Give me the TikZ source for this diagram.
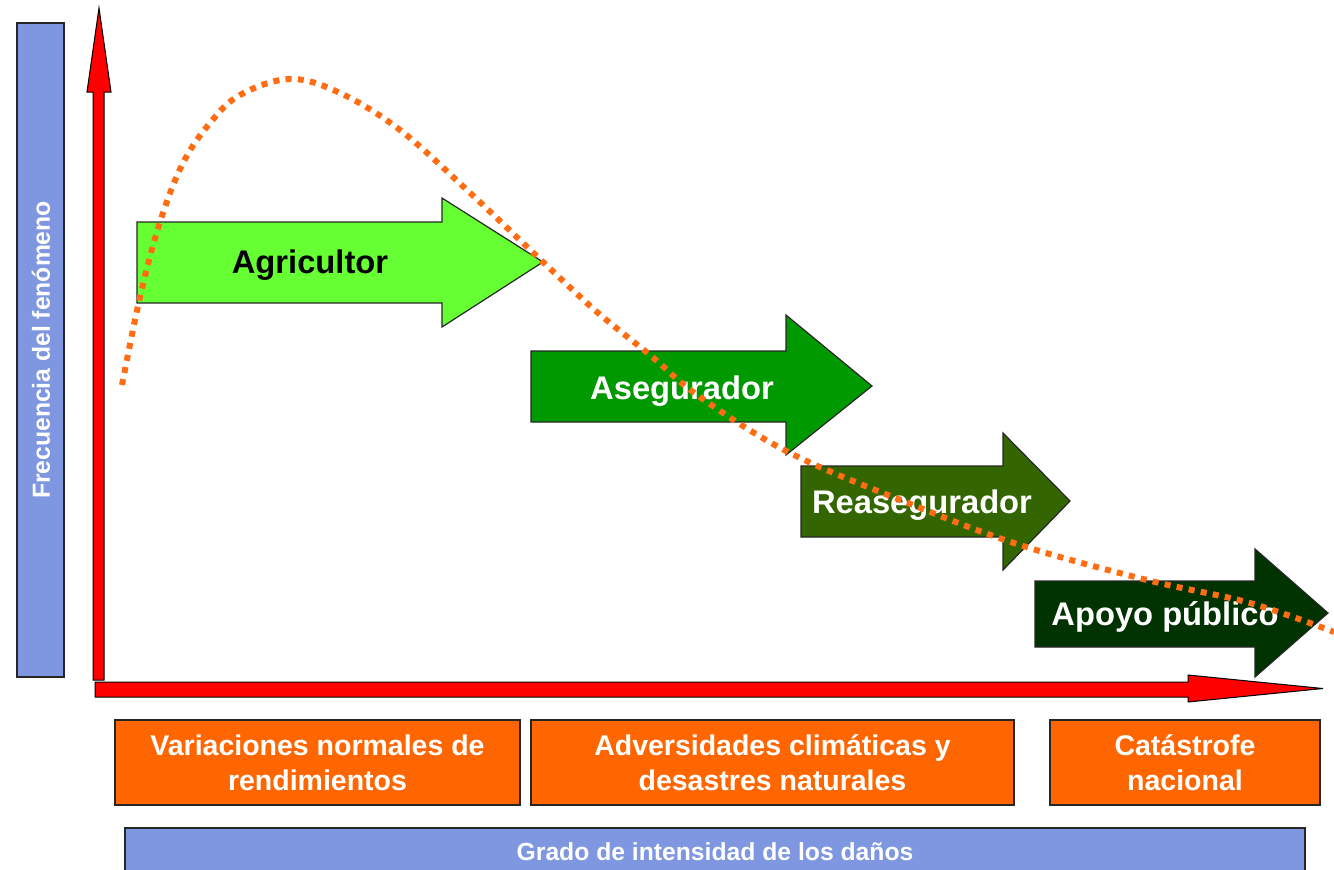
\documentclass[tikz,border=0pt]{standalone}
\usepackage{fontspec}
\setmainfont{Liberation Sans}
\definecolor{barblue}{RGB}{126,151,224}
\definecolor{zoneorange}{RGB}{255,102,0}
\definecolor{curveorange}{RGB}{255,108,18}
\definecolor{agrigreen}{RGB}{102,255,51}
\definecolor{aseggreen}{RGB}{0,153,0}
\definecolor{reaseggreen}{RGB}{51,102,0}
\definecolor{apoyogreen}{RGB}{0,51,0}

\begin{document}
\begin{tikzpicture}[x=1pt,y=-1pt,
    blockarrow/.style={draw=black!85,line width=1.2pt},
    axisarrow/.style={fill=red,draw=black,line width=1pt},
    arrowlabel/.style={font=\bfseries\fontsize{32.7}{39}\selectfont,anchor=base,inner sep=0pt},
    zonebox/.style={fill=zoneorange,draw=black!85,line width=1.3pt,text=white,align=center,
        minimum height=85pt,inner sep=0pt,font=\bfseries\fontsize{28.5}{35}\selectfont},
    barlabel/.style={text=white,font=\bfseries\fontsize{24.7}{30}\selectfont,inner sep=0pt}]
    \useasboundingbox (0,0) rectangle (1334,870);

    % axes
    \filldraw[axisarrow] (93,680) -- (93,92) -- (87,92) -- (99,8) -- (111,92) -- (104,92) -- (104,680) -- cycle;
    \filldraw[axisarrow] (95,682) -- (1188,682) -- (1188,675) -- (1323,688.5) -- (1188,702) -- (1188,697) -- (95,697) -- cycle;

    % blue bars
    \filldraw[fill=barblue,draw=black!85,line width=1.3pt] (17,23) rectangle (64,677);
    \node[barlabel,rotate=90] (frecuencia) at (41,350) {Frecuencia del fenómeno};
    \filldraw[fill=barblue,draw=black!85,line width=1.3pt] (125,828) rectangle (1305,885);
    \node[barlabel,anchor=base] (grado) at (715,860) {Grado de intensidad de los daños};

    % who carries the risk
    \filldraw[blockarrow,fill=agrigreen] (137,222) -- (442,222) -- (442,198) -- (543,262) -- (442,327) -- (442,303) -- (137,303) -- cycle;
    \filldraw[blockarrow,fill=aseggreen] (531,351) -- (786,351) -- (786,315) -- (872,386) -- (786,455) -- (786,422) -- (531,422) -- cycle;
    \filldraw[blockarrow,fill=reaseggreen] (801,466) -- (1003,466) -- (1003,433) -- (1070,501) -- (1003,570) -- (1003,537) -- (801,537) -- cycle;
    \filldraw[blockarrow,fill=apoyogreen] (1035,581) -- (1255,581) -- (1255,549) -- (1328,613) -- (1255,677) -- (1255,647) -- (1035,647) -- cycle;
    \begin{scope}[every node/.style={arrowlabel,text=white}]
        \node[text=black] (agri) at (310,273) {Agricultor};
        \node (aseg) at (682,399) {Asegurador};
        \node (reaseg) at (922,513) {Reasegurador};
        \node (apoyo) at (1165,625) {Apoyo público};
    \end{scope}

    % zones of damage
    \node[zonebox,minimum width=405pt] (variac) at (317.5,762.5) {Variaciones normales de\\rendimientos};
    \node[zonebox,minimum width=483pt] (advers) at (772.5,762.5) {Adversidades climáticas y\\desastres naturales};
    \node[zonebox,minimum width=270pt] (catast) at (1185,762.5) {Catástrofe\\nacional};

    % frequency curve
    \draw[curveorange,line width=6pt,dash pattern=on 6pt off 6.3pt] plot[smooth,tension=0.6] coordinates {
        (122,385) (140,297) (160,222) (183,163) (210,123) (240,95) (290,79) (340,93) (400,130)
        (467,190) (543,262) (597,312) (650,355) (700,397) (790,453) (913,505) (1020,545)
        (1147,580) (1250,603) (1334,632)};
\end{tikzpicture}
\end{document}
